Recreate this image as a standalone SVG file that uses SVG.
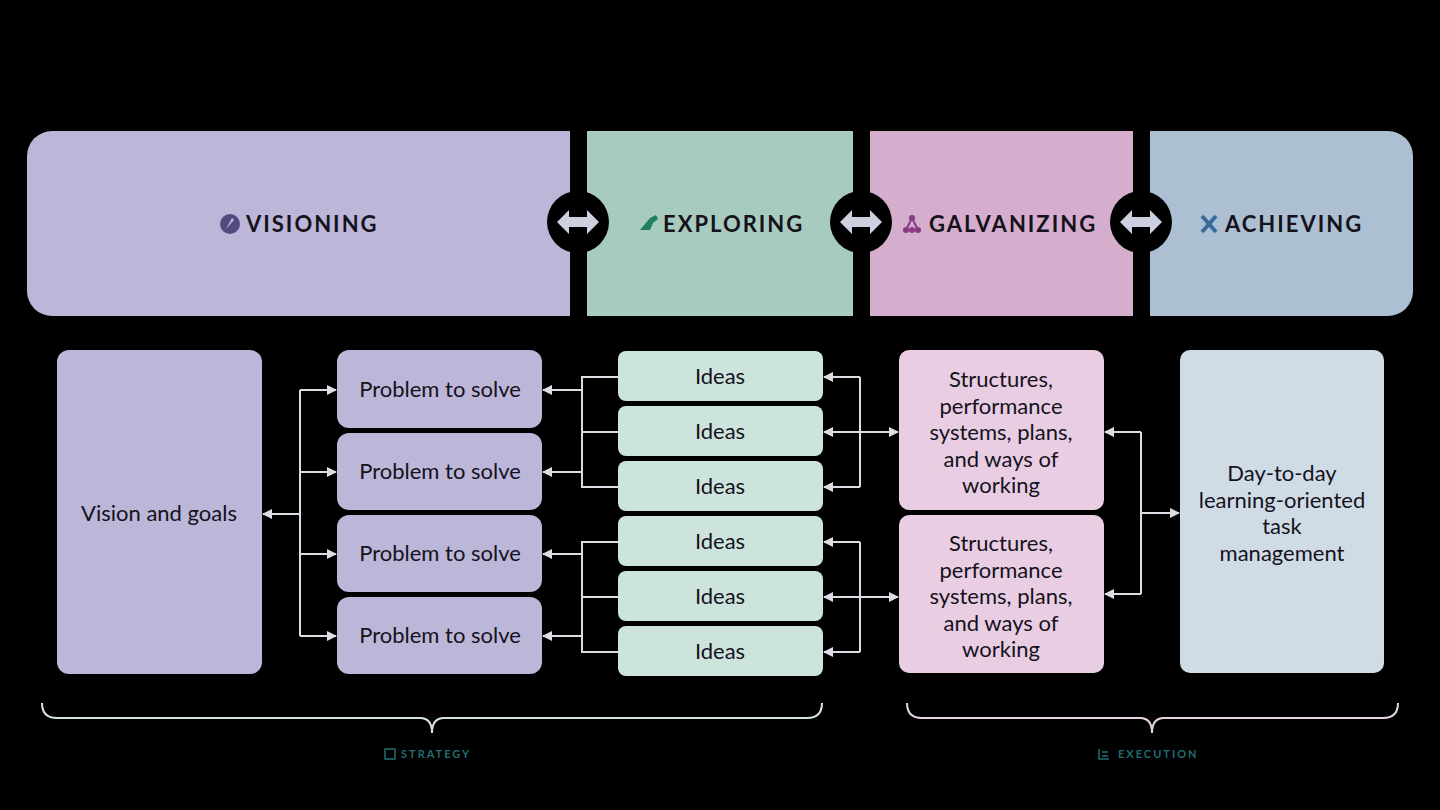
<svg xmlns="http://www.w3.org/2000/svg" width="1440" height="810" viewBox="0 0 1440 810">
<defs>
<style>
.h{font-family:Lato,"Noto Sans",sans-serif;font-weight:bold;font-size:22px;letter-spacing:2px;fill:#15121c}
.t{font-family:Lato,"Noto Sans",sans-serif;font-size:22px;fill:#15121c;text-anchor:middle}
.c{fill:none;stroke:#dcdce4;stroke-width:2}
.lab{font-family:Lato,"Noto Sans",sans-serif;font-weight:bold;font-size:11px;letter-spacing:2px;fill:#1f6f73}
</style>
<marker id="a" viewBox="0 0 10 10" refX="9" refY="5" markerWidth="10" markerHeight="10" markerUnits="userSpaceOnUse" orient="auto-start-reverse"><path d="M0,0L10,5L0,10z" fill="#dcdce4"/></marker>
<g id="dbl"><circle r="31" fill="#000"/><path d="M-21,0L-9,-12V-5H9V-12L21,0L9,12V5H-9V12z" fill="#ccd0e0"/></g>
</defs>
<rect width="1440" height="810" fill="#000"/>
<g id="header">
<path d="M52,131H570V316H52A25,25 0 0 1 27,291V156A25,25 0 0 1 52,131z" fill="#bcb6d8"/>
<rect x="587" y="131" width="266" height="185" fill="#a8cbbf"/>
<rect x="870" y="131" width="263" height="185" fill="#d6aecd"/>
<path d="M1150,131H1388A25,25 0 0 1 1413,156V291A25,25 0 0 1 1388,316H1150z" fill="#adc0d3"/>
<circle cx="230" cy="224" r="10" fill="#544a80"/><path d="M226,229L232,218L234,220z" fill="#bcb6d8"/>
<text class="h" x="246" y="232">VISIONING</text>
<path d="M640,230l10,-12l6,-3l2,4l-5,4l-3,7z" fill="#1f8060"/>
<text class="h" x="663" y="232">EXPLORING</text>
<g fill="#8a3a80"><circle cx="912" cy="218" r="3"/><circle cx="906" cy="230" r="3"/><circle cx="912" cy="230" r="3"/><circle cx="918" cy="230" r="3"/><path d="M912,218L906,230M912,218L918,230" stroke="#8a3a80" stroke-width="2"/></g>
<text class="h" x="929" y="232">GALVANIZING</text>
<path d="M1202,216L1216,232M1216,216L1202,232" stroke="#3a6a9a" stroke-width="4"/>
<text class="h" x="1225" y="232">ACHIEVING</text>
<use href="#dbl" x="578" y="222"/><use href="#dbl" x="861" y="222"/><use href="#dbl" x="1141" y="222"/>
</g>
<g id="vision"><rect x="57" y="350" width="205" height="324" rx="12" fill="#bcb6d8"/><text class="t" x="159" y="521">Vision and goals</text></g>
<g id="problems" fill="#bcb6d8">
<rect x="337" y="350" width="205" height="78" rx="12"/><rect x="337" y="433" width="205" height="77" rx="12"/>
<rect x="337" y="515" width="205" height="77" rx="12"/><rect x="337" y="597" width="205" height="77" rx="12"/>
<text class="t" x="440" y="397">Problem to solve</text><text class="t" x="440" y="479">Problem to solve</text>
<text class="t" x="440" y="561">Problem to solve</text><text class="t" x="440" y="643">Problem to solve</text>
</g>
<g id="ideas" fill="#cde4dc">
<rect x="618" y="351" width="205" height="50" rx="8"/><rect x="618" y="406" width="205" height="50" rx="8"/>
<rect x="618" y="461" width="205" height="50" rx="8"/><rect x="618" y="516" width="205" height="50" rx="8"/>
<rect x="618" y="571" width="205" height="50" rx="8"/><rect x="618" y="626" width="205" height="50" rx="8"/>
<text class="t" x="720" y="384">Ideas</text><text class="t" x="720" y="439">Ideas</text><text class="t" x="720" y="494">Ideas</text>
<text class="t" x="720" y="549">Ideas</text><text class="t" x="720" y="604">Ideas</text><text class="t" x="720" y="659">Ideas</text>
</g>
<g id="structures" fill="#e8cde3">
<rect x="899" y="350" width="205" height="160" rx="10"/><rect x="899" y="515" width="205" height="158" rx="10"/>
<text class="t" x="1001" y="387">Structures,<tspan x="1001" dy="26.5">performance</tspan><tspan x="1001" dy="26.5">systems, plans,</tspan><tspan x="1001" dy="26.5">and ways of</tspan><tspan x="1001" dy="26.5">working</tspan></text>
<text class="t" x="1001" y="551">Structures,<tspan x="1001" dy="26.5">performance</tspan><tspan x="1001" dy="26.5">systems, plans,</tspan><tspan x="1001" dy="26.5">and ways of</tspan><tspan x="1001" dy="26.5">working</tspan></text>
</g>
<g id="achieving"><rect x="1180" y="350" width="204" height="323" rx="10" fill="#cfdce6"/>
<text class="t" x="1282" y="481">Day-to-day<tspan x="1282" dy="26.5">learning-oriented</tspan><tspan x="1282" dy="26.5">task</tspan><tspan x="1282" dy="26.5">management</tspan></text></g>
<g id="connectors" class="c">
<path d="M300,390V636"/>
<path d="M300,514H263" marker-end="url(#a)"/>
<path d="M300,390H336" marker-end="url(#a)"/><path d="M300,472H336" marker-end="url(#a)"/>
<path d="M300,554H336" marker-end="url(#a)"/><path d="M300,636H336" marker-end="url(#a)"/>
<path d="M618,377H582V487H618M618,432H582"/>
<path d="M582,390H543" marker-end="url(#a)"/><path d="M582,472H543" marker-end="url(#a)"/>
<path d="M618,542H582V652H618M618,597H582"/>
<path d="M582,554H543" marker-end="url(#a)"/><path d="M582,636H543" marker-end="url(#a)"/>
<path d="M860,377V487"/><path d="M860,542V652"/>
<path d="M860,377H824" marker-end="url(#a)"/><path d="M860,487H824" marker-end="url(#a)"/>
<path d="M860,542H824" marker-end="url(#a)"/><path d="M860,652H824" marker-end="url(#a)"/>
<path d="M824,432H898" marker-start="url(#a)" marker-end="url(#a)"/>
<path d="M824,597H898" marker-start="url(#a)" marker-end="url(#a)"/>
<path d="M1141,432V594"/>
<path d="M1141,432H1105" marker-end="url(#a)"/><path d="M1141,594H1105" marker-end="url(#a)"/>
<path d="M1141,513H1179" marker-end="url(#a)"/>
</g>
<g id="brackets" fill="none" stroke-width="2">
<path d="M42,703Q42,718 57,718H420Q432,718 432,733Q432,718 444,718H807Q822,718 822,703" stroke="#d8e4e4"/>
<path d="M907,703Q907,718 922,718H1140Q1152,718 1152,733Q1152,718 1164,718H1383Q1398,718 1398,703" stroke="#e4d4e4"/>
</g>
<g id="labels">
<rect x="385" y="749" width="10" height="10" fill="none" stroke="#1f6f73" stroke-width="1.5"/>
<text class="lab" x="401" y="758">STRATEGY</text>
<path d="M1099,749V759H1109M1102,752H1108M1102,756H1108" fill="none" stroke="#1f6f73" stroke-width="1.5"/>
<text class="lab" x="1118" y="758">EXECUTION</text>
</g>
</svg>
